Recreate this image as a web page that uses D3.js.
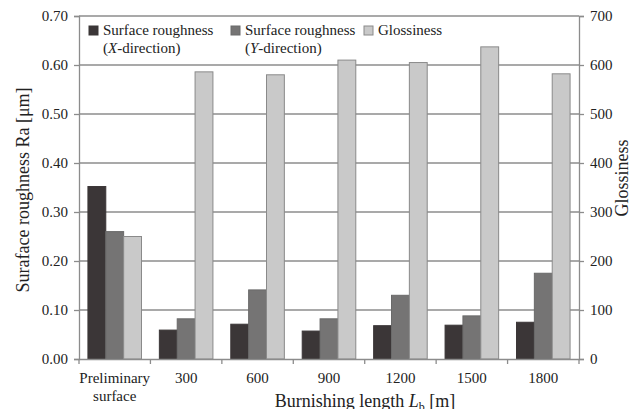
<!DOCTYPE html>
<html>
<head>
<meta charset="utf-8">
<script src="https://cdn.jsdelivr.net/npm/d3@7"></script>
<style>
body { margin: 0; background: #fff; }
text { font-family: "Liberation Serif", "Times New Roman", serif; fill: #222; }
</style>
</head>
<body>
<div class="chart"></div>
<script>
var categories = ["Preliminary surface", "300", "600", "900", "1200", "1500", "1800"];
var roughX = [0.352, 0.059, 0.071, 0.057, 0.068, 0.069, 0.075];
var roughY = [0.260, 0.082, 0.141, 0.082, 0.130, 0.088, 0.175];
var gloss = [250, 586, 580, 610, 605, 637, 582];
var leftTicks = [0, 0.1, 0.2, 0.3, 0.4, 0.5, 0.6, 0.7];
var rightTicks = [0, 100, 200, 300, 400, 500, 600, 700];

var width = 638, height = 409;
var plotLeft = 79, plotRight = 579, plotTop = 16, plotBottom = 359;

var svg = d3.select(".chart").append("svg")
    .attr("width", width)
    .attr("height", height);

var x = d3.scaleBand().domain(categories).range([plotLeft, plotRight]).paddingInner(0.25).paddingOuter(0.125);
var yL = d3.scaleLinear().domain([0, 0.7]).range([plotBottom, plotTop]);
var yR = d3.scaleLinear().domain([0, 700]).range([plotBottom, plotTop]);
var bw = x.bandwidth() / 3;

// grid
svg.append("g").selectAll("line")
    .data(leftTicks.slice(1))
    .enter().append("line")
    .attr("x1", plotLeft).attr("x2", plotRight)
    .attr("y1", function(d){ return yL(d); })
    .attr("y2", function(d){ return yL(d); })
    .attr("stroke", "#8c8c8c").attr("stroke-width", 1.3);

// bars
var series = [
    {vals: roughX, scale: yL, fill: "#3b3637", stroke: "#3b3637"},
    {vals: roughY, scale: yL, fill: "#757474", stroke: "#6a6a6a"},
    {vals: gloss, scale: yR, fill: "#c9c9c9", stroke: "#8a8a8a"}
];
series.forEach(function(s, i){
    svg.append("g").selectAll("rect")
        .data(s.vals)
        .enter().append("rect")
        .attr("x", function(d, j){ return x(categories[j]) + i * bw; })
        .attr("y", function(d){ return s.scale(d); })
        .attr("width", bw)
        .attr("height", function(d){ return plotBottom - s.scale(d); })
        .attr("fill", s.fill)
        .attr("stroke", s.stroke)
        .attr("stroke-width", 1);
});

// axes
var axL = svg.append("g").attr("transform", "translate(" + plotLeft + ",0)")
    .call(d3.axisLeft(yL).tickValues(leftTicks).tickFormat(d3.format(".2f")).tickSize(5).tickPadding(6));
var axR = svg.append("g").attr("transform", "translate(" + plotRight + ",0)")
    .call(d3.axisRight(yR).tickValues(rightTicks).tickSize(5).tickPadding(6));
var axB = svg.append("g").attr("transform", "translate(0," + plotBottom + ")")
    .call(d3.axisBottom(x).tickSize(0).tickFormat(""));
// category boundary ticks
svg.append("g").selectAll("line")
    .data(d3.range(categories.length + 1))
    .enter().append("line")
    .attr("x1", function(i){ return plotLeft + i * x.step(); })
    .attr("x2", function(i){ return plotLeft + i * x.step(); })
    .attr("y1", plotBottom).attr("y2", plotBottom + 5)
    .attr("stroke", "#8c8c8c").attr("stroke-width", 1.3);

[axL, axR, axB].forEach(function(a){
    a.select(".domain").attr("stroke", "#8c8c8c").attr("stroke-width", 1.3);
    a.selectAll(".tick line").attr("stroke", "#8c8c8c").attr("stroke-width", 1.3);
    a.selectAll(".tick text").style("font-family", "Liberation Serif").style("font-size", "15px").attr("fill", "#222");
});

// category labels
categories.forEach(function(c){
    var cx = x(c) + x.bandwidth() / 2;
    var t = svg.append("text").attr("x", cx).attr("y", 383)
        .attr("text-anchor", "middle").style("font-size", "15px");
    if (c === "Preliminary surface") {
        t.text("Preliminary");
        svg.append("text").attr("x", cx).attr("y", 401)
            .attr("text-anchor", "middle").style("font-size", "15px").text("surface");
    } else {
        t.text(c);
    }
});

// axis titles
var xt = svg.append("text").attr("x", 365).attr("y", 407).attr("text-anchor", "middle").style("font-size", "18px");
xt.append("tspan").text("Burnishing length ");
xt.append("tspan").attr("font-style", "italic").text("L");
xt.append("tspan").attr("dy", 4).style("font-size", "12px").text("b");
xt.append("tspan").attr("dy", -4).text(" [m]");

svg.append("text").attr("transform", "translate(29,190) rotate(-90)")
    .attr("text-anchor", "middle").style("font-size", "18px").text("Suraface roughness Ra [μm]");
svg.append("text").attr("transform", "translate(628,178) rotate(-90)")
    .attr("text-anchor", "middle").style("font-size", "18px").text("Glossiness");

// legend
var legend = [
    {fill: "#3b3637", stroke: "#3b3637", lines: [["Surface roughness"], ["(", ["X"], "-direction)"]], x: 89},
    {fill: "#757474", stroke: "#6a6a6a", lines: [["Surface roughness"], ["(", ["Y"], "-direction)"]], x: 231},
    {fill: "#c9c9c9", stroke: "#8a8a8a", lines: [["Glossiness"]], x: 364}
];
legend.forEach(function(l){
    svg.append("rect").attr("x", l.x).attr("y", 26).attr("width", 9).attr("height", 9)
        .attr("fill", l.fill).attr("stroke", l.stroke);
    l.lines.forEach(function(parts, k){
        var t = svg.append("text").attr("x", l.x + 14).attr("y", 35 + k * 18).style("font-size", "15px");
        parts.forEach(function(p){
            if (Array.isArray(p)) t.append("tspan").attr("font-style", "italic").text(p[0]);
            else t.append("tspan").text(p);
        });
    });
});
</script>
</body>
</html>
